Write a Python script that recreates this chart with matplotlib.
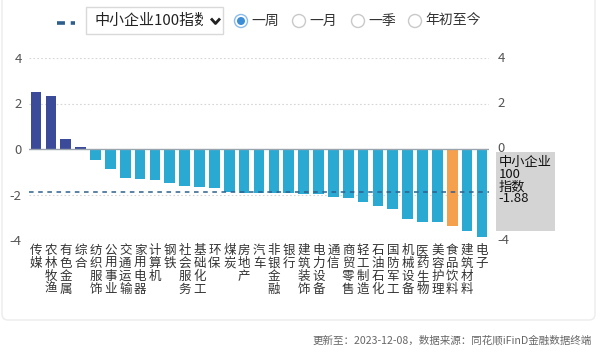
import matplotlib
matplotlib.use("Agg")
import matplotlib.pyplot as plt
from matplotlib.patches import Rectangle, Circle, FancyBboxPatch
from matplotlib.lines import Line2D

plt.rcParams['font.family'] = ['Noto Sans CJK SC', 'DejaVu Sans']

# data (weekly change, %)
industries = ['传媒', '农林牧渔', '有色金属', '综合', '纺织服饰', '公用事业', '交通运输',
              '家用电器', '计算机', '钢铁', '社会服务', '基础化工', '环保', '煤炭',
              '房地产', '汽车', '非银金融', '银行', '建筑装饰', '电力设备', '通信',
              '商贸零售', '轻工制造', '石油石化', '国防军工', '机械设备', '医药生物',
              '美容护理', '食品饮料', '建筑材料', '电子']
weekly_change = [2.52, 2.34, 0.43, 0.07, -0.48, -0.89, -1.29, -1.32, -1.38, -1.48,
                 -1.63, -1.67, -1.71, -1.88, -1.92, -1.92, -1.94, -1.95, -1.96, -1.98,
                 -2.10, -2.17, -2.31, -2.50, -2.64, -3.08, -3.19, -3.22, -3.37, -3.60,
                 -3.85]
highlight = '食品饮料'
index_label = '中小企业\n100\n指数\n-1.88'
index_change = -1.88
left_ticks = [4, 2, 0, -2, -4]
right_ticks = [4, 2, 0, -4]   # -2 sits behind the grey label box
dropdown_text = '中小企业100指数'
periods = ['一周', '一月', '一季', '年初至今']
footer = '更新至：2023-12-08，数据来源：同花顺iFinD金融数据终端'

NAVY = '#3c4b99'
CYAN = '#2aa9d3'
ORANGE = '#f5a04c'
DASH = '#2e5f8c'

fig = plt.figure(figsize=(6, 3.64), dpi=100)

# background layer in pixel units for the widget bits
bg = fig.add_axes([0, 0, 1, 1], zorder=0)
bg.set_xlim(0, 600)
bg.set_ylim(364, 0)
bg.axis('off')

bg.add_patch(FancyBboxPatch((2, -20), 593, 340, boxstyle='round,pad=0,rounding_size=6',
                            fc='white', ec='#ececec', lw=1))

# legend dash + dropdown
bg.add_line(Line2D([57, 75], [23, 23], color=DASH, lw=2.6, ls=(0, (2.2, 1.6))))
bg.add_patch(Rectangle((86, 7), 137, 27, fc='white', ec='#d9d9d9', lw=1))
clip = Rectangle((86, 7), 117, 27, transform=bg.transData)
t = bg.text(94, 21, dropdown_text, fontsize=10.8, color='#222222', va='center', ha='left')
t.set_clip_path(clip)
t.set_clip_on(True)
bg.add_line(Line2D([211, 215.5, 220], [18.5, 23.5, 18.5], color='#222222', lw=2,
                   solid_capstyle='butt'))

# period radio buttons
radio_x = [241, 299, 358, 415]
for i, (cx, lab) in enumerate(zip(radio_x, periods)):
    if i == 0:
        bg.add_patch(Circle((cx, 21), 6.5, fc='white', ec='#8cbde8', lw=1))
        bg.add_patch(Circle((cx, 21), 4, fc='#3b8ed6', ec='none'))
    else:
        bg.add_patch(Circle((cx, 21), 6.5, fc='white', ec='#c9c9c9', lw=1))
    bg.text(cx + 10, 21, lab, fontsize=10, color='#333333', va='center', ha='left')

bg.text(592, 340, footer, fontsize=7.6, color='#666666', va='center', ha='right')

# main chart
ax = fig.add_axes([28.6 / 600, 1 - 240 / 364, 460.8 / 600, 182 / 364], zorder=2)
ax.patch.set_alpha(0)
x = list(range(len(industries)))
colors = []
for name, v in zip(industries, weekly_change):
    if name == highlight:
        colors.append(ORANGE)
    elif v >= 0:
        colors.append(NAVY)
    else:
        colors.append(CYAN)
ax.bar(x, weekly_change, width=0.72, color=colors, zorder=3)

ax.set_xlim(-0.5, len(industries) - 0.5)
ax.set_ylim(-4, 4)
for tk in [4, 2, -2, -4]:
    ax.axhline(tk, color='#d6d6d6', lw=0.8, ls=(0, (1.5, 2)), zorder=1)
ax.axhline(0, color='#9aa4ad', lw=1, zorder=4)
ax.axhline(index_change, color=DASH, lw=1.1, ls=(0, (3, 3)), zorder=5)

for s in ax.spines.values():
    s.set_visible(False)
ax.set_yticks(left_ticks)
ax.set_yticklabels([str(tk) for tk in left_ticks])
ax.tick_params(axis='y', length=0, pad=5, labelsize=9.5, labelcolor='#555555')
ax.set_xticks(x)
ax.set_xticklabels(['\n'.join(n) for n in industries], fontsize=9, color='#333333',
                   linespacing=0.98)
ax.tick_params(axis='x', length=0, pad=3)

# right axis labels
ytr = ax.get_yaxis_transform()
for tk in right_ticks:
    ax.text(1.018, tk, str(tk), transform=ytr, fontsize=9.5, color='#555555',
            va='center', ha='left', zorder=6)

# grey index label box centred on the index line
ax.add_patch(Rectangle((1.0143, index_change - 1.74), 0.128, 3.48, transform=ytr,
                       fc='#d4d4d4', ec='none', clip_on=False, zorder=7))
ax.text(1.02, index_change + 1.58, index_label, transform=ytr, fontsize=9.5,
        color='#111111', va='top', ha='left', linespacing=0.92, zorder=8)

fig.savefig('out.png', dpi=100)
